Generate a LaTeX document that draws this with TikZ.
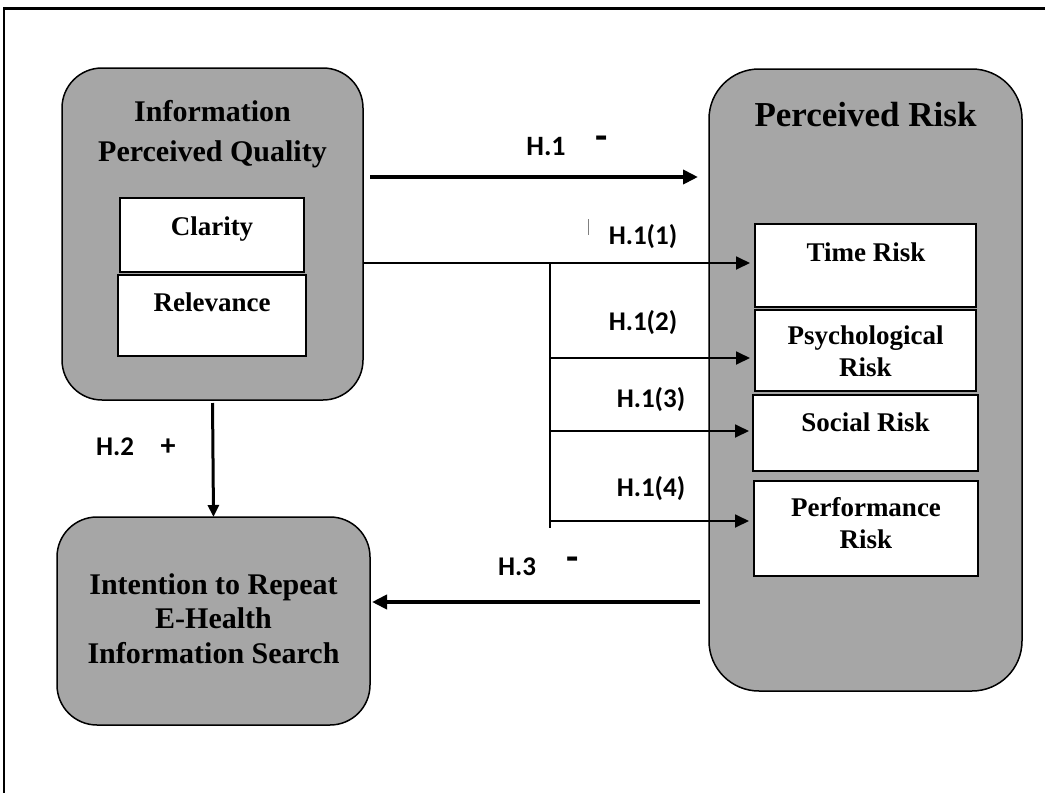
\documentclass[tikz,border=0pt]{standalone}
\usepackage{fontspec}
\setmainfont{Liberation Serif}
\newfontfamily\calibfont{Carlito}
\usetikzlibrary{arrows.meta}
\definecolor{boxgray}{HTML}{A6A6A6}
\begin{document}
\begin{tikzpicture}[x=1pt,y=-1pt,
  rbox/.style={draw=black, line width=1.5pt, fill=boxgray, rounded corners=40pt, inner sep=0pt, outer sep=0pt},
  wbox/.style={draw=black, line width=1.5pt, fill=white, inner sep=0pt, outer sep=0pt},
  ttl/.style={font=\bfseries\fontsize{30}{40}\selectfont, align=center, anchor=base, inner sep=0pt},
  btxt/.style={font=\bfseries\fontsize{27}{32}\selectfont, align=center, anchor=base, inner sep=0pt},
  lab/.style={font=\calibfont\bfseries\fontsize{27}{30}\selectfont, anchor=base, inner sep=0pt},
  sgn/.style={font=\calibfont\bfseries\fontsize{40}{40}\selectfont, anchor=center, inner sep=0pt},
  thickarrow/.style={line width=4.5pt, -{Triangle[length=15pt,width=14pt]}},
  thinarrow/.style={line width=1.8pt, -{Triangle[length=14pt,width=13pt]}},
  thinline/.style={line width=1.8pt}
]
\useasboundingbox (0,0) rectangle (1045,793);
% frame
\draw[line width=2.7pt] (4,793) -- (4,8.5) -- (1045,8.5);

% left top box
\node[rbox, minimum width=301pt, minimum height=332pt] (ipq) at (212.5,234) {};
\node[ttl] (ipqt) at (212.5,161.7) {Information\\Perceived Quality};
\node[wbox, minimum width=184pt, minimum height=74pt] (clar) at (212,235) {};
\node[btxt] (clart) at (212,235) {Clarity};
\node[wbox, minimum width=188pt, minimum height=81pt] (relev) at (212,315.5) {};
\node[btxt] (relevt) at (212,311.7) {Relevance};

% right box
\node[rbox, rounded corners=50pt, minimum width=313pt, minimum height=622pt] (pr) at (865.5,380) {};
\node[ttl, font=\bfseries\fontsize{35}{40}\selectfont] (prt) at (865.5,126) {Perceived Risk};
\node[wbox, minimum width=221pt, minimum height=83pt] (tr) at (865.5,265.5) {};
\node[btxt] (trt) at (866,261) {Time Risk};
\node[wbox, minimum width=221pt, minimum height=81pt] (psy) at (865.5,350.5) {};
\node[btxt] (psyt) at (865.5,376.7) {Psychological\\Risk};
\node[wbox, minimum width=225pt, minimum height=76pt] (soc) at (865.5,433) {};
\node[btxt] (soct) at (865.5,431) {Social Risk};
\node[wbox, minimum width=224pt, minimum height=95pt] (perf) at (866,528.5) {};
\node[btxt] (perft) at (866,548.3) {Performance\\Risk};

% bottom left box
\node[rbox, minimum width=313pt, minimum height=208pt] (intent) at (213.5,621) {};
\node[ttl, font=\bfseries\fontsize{30}{34.5}\selectfont] (intentt) at (213.5,663) {Intention to Repeat\\E-Health\\Information Search};

% connectors
\draw[thickarrow, shorten <=7pt, shorten >=11pt] (ipq.east |- 0,177) -- (pr.west |- 0,177);
\coordinate (br) at (550,263);
\coordinate (brend) at (550,528);
\draw[thinarrow, shorten >=5pt] (ipq.east |- br) -- (tr.west |- br);
\draw[thinline] (br) -- (brend);
\draw[thinarrow, shorten >=5pt] (br |- 0,358) -- (psy.west |- 0,358);
\draw[thinarrow, shorten >=4pt] (br |- 0,431) -- (soc.west |- 0,431);
\draw[thinarrow, shorten >=5pt] (br |- 0,521) -- (perf.west |- 0,521);
\draw[line width=3pt, -{Triangle[length=12pt,width=11pt]}, shorten <=3pt] (ipq.south) -- (intent.north);
\draw[thickarrow, shorten <=9pt, shorten >=2pt] (pr.west |- 0,602) -- (intent.east |- 0,602);

% small gray tick
\draw[gray, line width=1pt] (588,219) -- (588,235);

% labels
\node[lab, font=\calibfont\bfseries\fontsize{28}{30}\selectfont] (h1) at (546,155.7) {H.1};
\node[sgn] (h1s) at (602,143) {-};
\node[lab] (h11) at (643,244) {H.1(1)};
\node[lab] (h12) at (643,330.7) {H.1(2)};
\node[lab] (h13) at (651,407) {H.1(3)};
\node[lab] (h14) at (651,496) {H.1(4)};
\node[lab] (h2) at (115,455.7) {H.2};
\node[sgn, font=\calibfont\bfseries\fontsize{30}{30}\selectfont] (h2s) at (168,447) {+};
\node[lab] (h3) at (517,575.7) {H.3};
\node[sgn] (h3s) at (573,564) {-};
\end{tikzpicture}
\end{document}
